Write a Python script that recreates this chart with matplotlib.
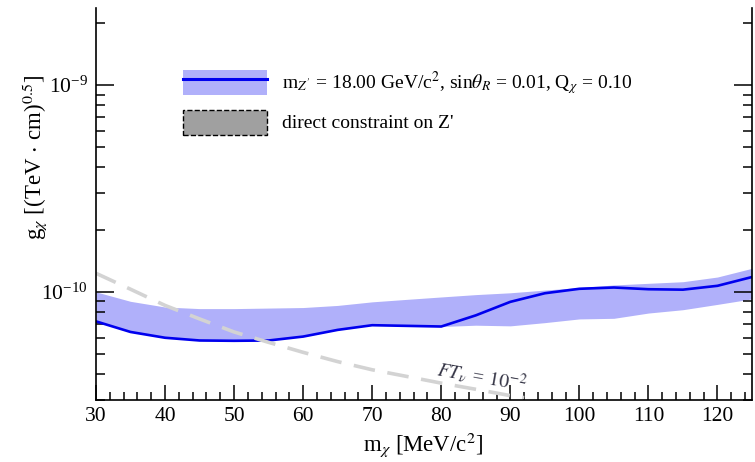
import numpy as np
import matplotlib.pyplot as plt
from matplotlib.patches import Patch
from matplotlib.lines import Line2D
from matplotlib.ticker import NullFormatter, MultipleLocator, LogFormatterMathtext

plt.rcParams['font.family'] = ['Liberation Serif', 'DejaVu Serif']
plt.rcParams['mathtext.fontset'] = 'stix'

# dark matter mass [MeV/c^2]
m_chi = [30, 35, 40, 45, 50, 55, 60, 65, 70, 75, 80, 85, 90, 95, 100, 105, 110, 115, 120, 125]
# central limit on g_chi (units 1e-11)
g_mid = [7.2, 6.4, 6.0, 5.82, 5.8, 5.82, 6.08, 6.55, 6.9, 6.85, 6.8, 7.7, 8.95, 9.85, 10.35, 10.5, 10.3, 10.25, 10.7, 11.8]
g_lo = [7.2, 6.4, 6.0, 5.82, 5.8, 5.82, 6.08, 6.55, 6.9, 6.85, 6.8, 6.9, 6.85, 7.1, 7.4, 7.45, 7.9, 8.2, 8.7, 9.25]
g_hi = [10.0, 9.0, 8.45, 8.3, 8.3, 8.35, 8.4, 8.6, 8.95, 9.2, 9.45, 9.7, 9.9, 10.2, 10.5, 10.8, 11.0, 11.2, 11.8, 13.0]

# FT_nu = 1e-2 curve
m_ft = [30, 35, 40, 45, 50, 55, 60, 65, 70, 75, 80, 85, 90, 92]
g_ft = [12.3, 10.3, 8.6, 7.4, 6.4, 5.7, 5.1, 4.6, 4.2, 3.9, 3.62, 3.38, 3.15, 3.08]

scale = 1e-11
g_mid = np.array(g_mid) * scale
g_lo = np.array(g_lo) * scale
g_hi = np.array(g_hi) * scale
g_ft = np.array(g_ft) * scale

band_col = '#b0b0fa'
line_col = '#0000ee'

fig = plt.figure(figsize=(7.55, 4.62), dpi=100)
ax = fig.add_axes([96/755, 1-400/462, (752-96)/755, 392/462])

ax.fill_between(m_chi, g_lo, g_hi, color=band_col, lw=0)
ax.plot(m_chi, g_mid, color=line_col, lw=1.9)
ax.plot(m_ft, g_ft, color='#d3d3d3', lw=2.6, dashes=(6, 3.5))

ax.set_yscale('log')
ax.set_xlim(30, 125)
ax.set_ylim(3.0e-11, 2.36e-9)

ax.xaxis.set_major_locator(MultipleLocator(10))
ax.xaxis.set_minor_locator(MultipleLocator(2))
ax.set_yticks([1e-10, 1e-9])
ax.yaxis.set_major_formatter(LogFormatterMathtext())
minor_y = [k * 1e-11 for k in range(3, 10)] + [k * 1e-10 for k in range(2, 10)] + [2e-9]
ax.set_yticks(minor_y, minor=True)
ax.yaxis.set_minor_formatter(NullFormatter())

ax.spines['top'].set_visible(False)
for s in ['left', 'right', 'bottom']:
    ax.spines[s].set_linewidth(1.2)

ax.tick_params(axis='both', which='both', direction='in', width=1.1, labelsize=15.5, colors='black')
ax.tick_params(axis='x', which='major', length=11, pad=5)
ax.tick_params(axis='x', which='minor', length=5.5)
ax.tick_params(axis='y', which='major', length=13, right=True, pad=6)
ax.tick_params(axis='y', which='minor', length=6.5, right=True)
ax.tick_params(axis='x', top=False)

ax.set_xlabel(r'm$_\chi$ [MeV/c$^2$]', fontsize=16.4, va='center')
ax.xaxis.set_label_coords((423-96)/656, (400-445)/392)
ax.set_ylabel(r'g$_\chi$ [(TeV$\,\cdot\,$cm)$^{0.5}$]', fontsize=16.5, va='center')
ax.yaxis.set_label_coords((35-96)/656, (400-157)/392)

ax.text(85.9, 3.9e-11, r'$FT_\nu$ = $10^{-2}$', rotation=-10, fontsize=14,
        color='#333344', ha='center', va='center', style='italic')

h1 = (Patch(facecolor=band_col, edgecolor='none'), Line2D([], [], color=line_col, lw=2.2))
h2 = Patch(facecolor='#a0a0a0', edgecolor='black', linestyle='--', linewidth=1)
labels = [r"m$_{Z'}$ = 18.00 GeV/c$^2$, sin$\theta_R$ = 0.01, Q$_\chi$ = 0.10",
          "direct constraint on Z'"]
fig.legend([h1, h2], labels, loc='upper left', bbox_to_anchor=(183/755, 1-69/462),
           bbox_transform=fig.transFigure, frameon=False, fontsize=14,
           handlelength=4.3, handleheight=1.6, handletextpad=0.8, labelspacing=0.65,
           borderpad=0, borderaxespad=0)

fig.savefig('out.png', dpi=100)
